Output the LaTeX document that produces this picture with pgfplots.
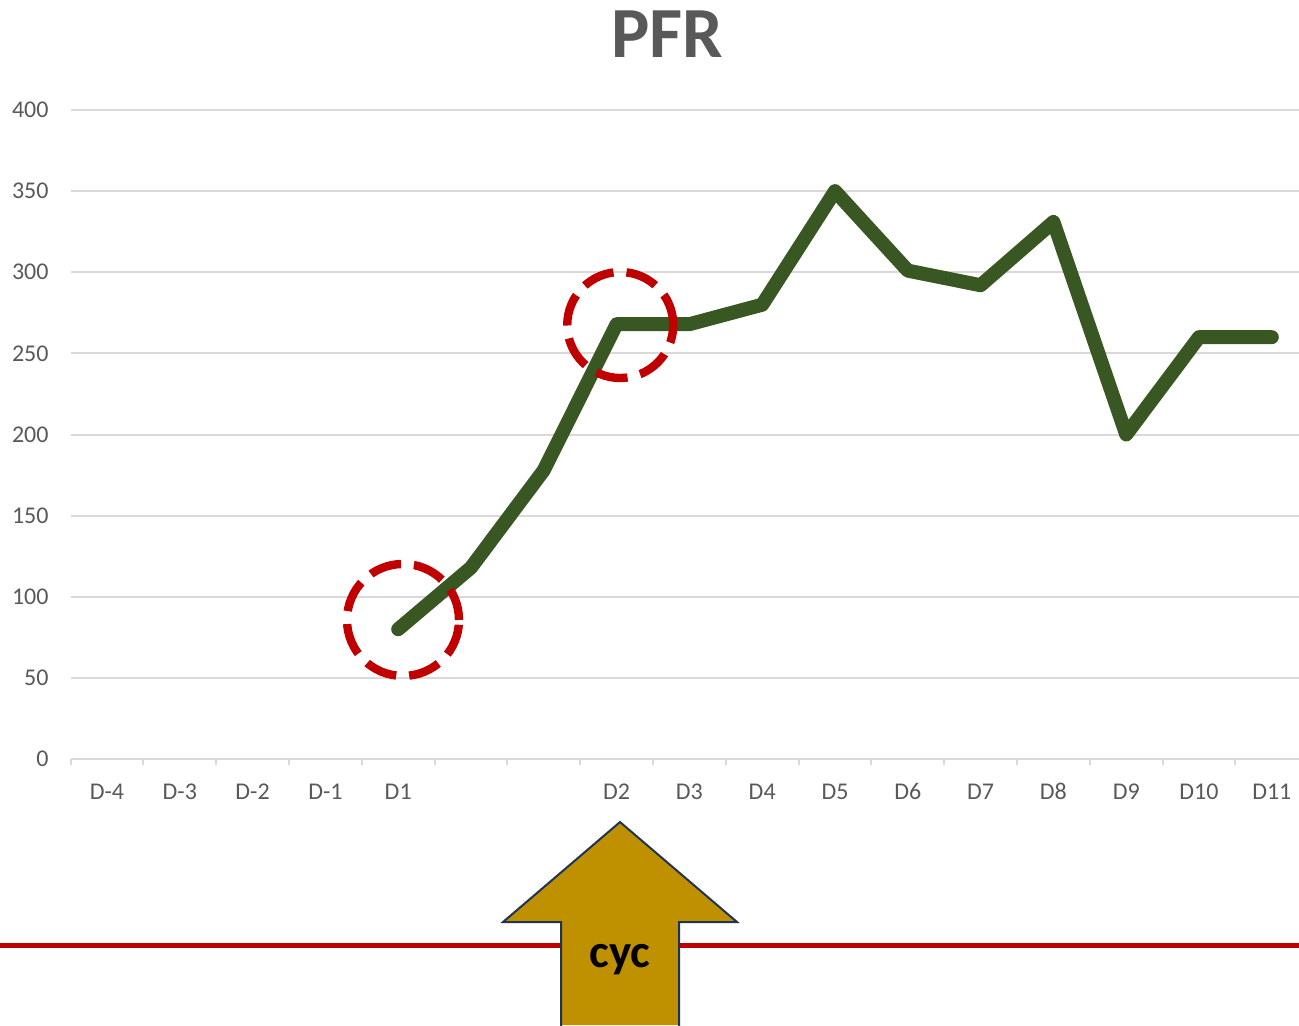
\documentclass[border=0pt]{standalone}
\usepackage{pgfplots}
\pgfplotsset{compat=1.18}
\usepackage{fontspec}
\setmainfont{Carlito}
\definecolor{gridc}{HTML}{D9D9D9}
\definecolor{txt}{HTML}{595959}
\definecolor{lgreen}{HTML}{385723}
\definecolor{dred}{HTML}{C00000}
\definecolor{gold}{HTML}{BF9000}
\definecolor{navy}{HTML}{1F3354}
\begin{document}
\begin{tikzpicture}
\useasboundingbox (0,0) rectangle (649.5pt,-512.5pt);
\begin{axis}[
  at={(35.3pt,-379.5pt)}, anchor=south west,
  scale only axis, width=618.8pt, height=324.5pt,
  xmin=-0.5, xmax=16.5, ymin=0, ymax=400,
  ytick={0,50,...,400},
  xtick={0,...,16},
  xticklabels={D-4,D-3,D-2,D-1,D1,,,D2,D3,D4,D5,D6,D7,D8,D9,D10,D11},
  minor xtick={-0.5,0.5,...,15.5},
  axis lines*=left,
  x axis line style={gridc, line width=1pt},
  y axis line style={draw=none},
  ymajorgrids, xmajorgrids=false,
  major grid style={gridc, line width=1pt},
  major tick length=0pt,
  minor tick length=3pt,
  tick align=outside,
  minor tick style={gridc, line width=1pt},
  ytick style={draw=none},
  tick label style={font=\fontsize{12}{14}\selectfont, text=txt},
  xticklabel style={yshift=-8.5pt, text height=8pt, text depth=0pt},
  yticklabel style={xshift=-7.5pt},
  /pgf/number format/assume math mode=true,
  clip=false,
]
\addplot[lgreen, line width=7pt, line join=round, line cap=round] coordinates {
 (4,80) (5,118) (6,178) (7,268) (8,268) (9,280) (10,350) (11,301) (12,292) (13,331) (14,200) (15,260) (16,260)};
\draw[dred, line width=4.2pt, dash pattern=on 16pt off 6.5pt] (axis cs:4.066,85.7) circle[radius=28pt];
\draw[dred, line width=4.2pt, dash pattern=on 16pt off 6.5pt] (axis cs:7.05,267.5) circle[radius=26.5pt];
\end{axis}
\begin{scope}[x=0.5pt,y=-0.5pt]
\node[font=\bfseries\fontsize{36}{42}\selectfont, text=txt] at (667,34) {PFR};
\draw[dred, line width=2.5pt] (0,945) -- (1299,945);
\fill[gold] (620,822) -- (737,922) -- (679,922) -- (679,1025) -- (561,1025) -- (561,922) -- (503,922) -- cycle;
\draw[navy, line width=1pt, line join=miter] (679,1026) -- (679,922) -- (737,922) -- (620,822) -- (503,922) -- (561,922) -- (561,1026);
\node[font=\bfseries\fontsize{23.5}{28}\selectfont] at (620,960) {cyc};
\end{scope}
\end{tikzpicture}
\end{document}
